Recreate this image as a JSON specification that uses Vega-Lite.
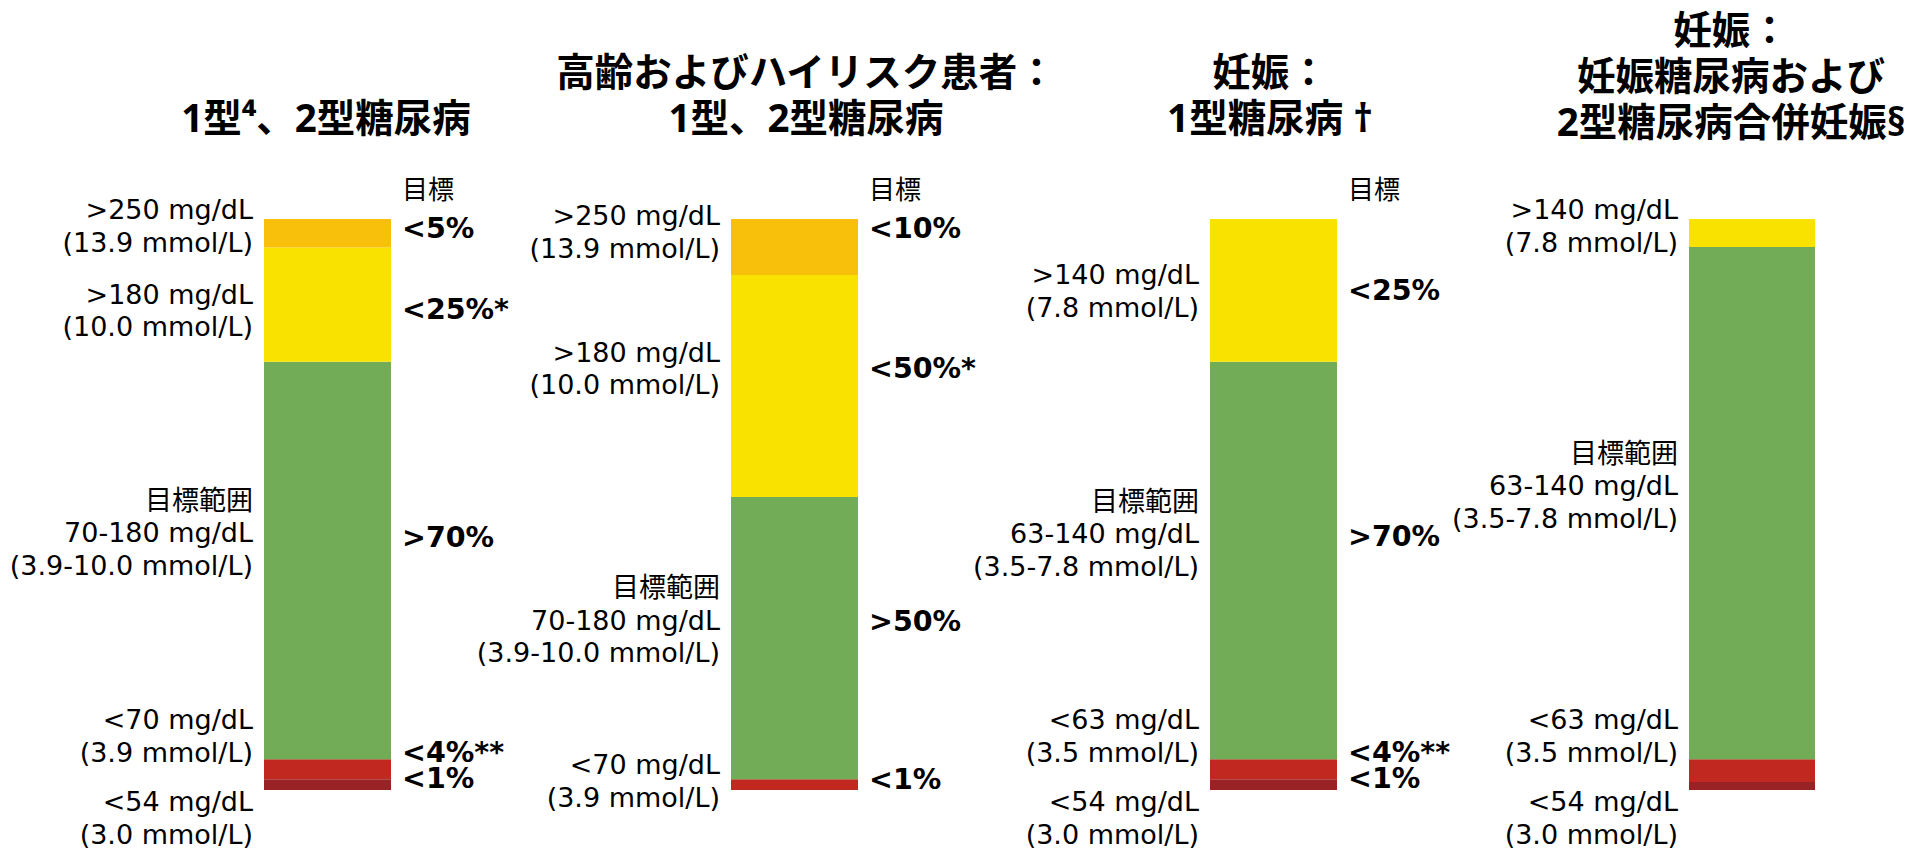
{
  "$schema": "https://vega.github.io/schema/vega-lite/v6.json",
  "background": "white",
  "autosize": {"type": "none"},
  "padding": {"left": 264, "top": 219, "right": 1643, "bottom": 630},
  "config": {
    "view": {"stroke": null},
    "text": {"font": "DejaVu Sans, Noto Sans CJK JP", "fontSize": 27, "fill": "#000000", "lineBreak": "\n", "lineHeight": 32.5, "baseline": "middle"},
    "title": {"font": "Noto Sans, Noto Sans CJK JP", "fontSize": 38.5, "fontWeight": "bold", "color": "#000000", "anchor": "middle", "frame": "group", "baseline": "bottom", "lineHeight": 46, "offset": 38}
  },
  "datasets": {
    "segments": [
      {"panel": "p1", "rank": 1, "band": "verylow", "value": 1.9, "range": "<54 mg/dL\n(3.0 mmol/L)", "goal": "<1%"},
      {"panel": "p1", "rank": 2, "band": "low", "value": 3.5, "range": "<70 mg/dL\n(3.9 mmol/L)", "goal": "<4%**"},
      {"panel": "p1", "rank": 3, "band": "inrange", "value": 69.6, "range": "目標範囲\n70-180 mg/dL\n(3.9-10.0 mmol/L)", "goal": ">70%"},
      {"panel": "p1", "rank": 4, "band": "high", "value": 20.0, "range": ">180 mg/dL\n(10.0 mmol/L)", "goal": "<25%*"},
      {"panel": "p1", "rank": 5, "band": "veryhigh", "value": 5.0, "range": ">250 mg/dL\n(13.9 mmol/L)", "goal": "<5%"},
      {"panel": "p2", "rank": 1, "band": "low", "value": 1.9, "range": "<70 mg/dL\n(3.9 mmol/L)", "goal": "<1%"},
      {"panel": "p2", "rank": 2, "band": "inrange", "value": 49.4, "range": "目標範囲\n70-180 mg/dL\n(3.9-10.0 mmol/L)", "goal": ">50%"},
      {"panel": "p2", "rank": 3, "band": "high", "value": 38.9, "range": ">180 mg/dL\n(10.0 mmol/L)", "goal": "<50%*"},
      {"panel": "p2", "rank": 4, "band": "veryhigh", "value": 9.8, "range": ">250 mg/dL\n(13.9 mmol/L)", "goal": "<10%"},
      {"panel": "p3", "rank": 1, "band": "verylow", "value": 1.9, "range": "<54 mg/dL\n(3.0 mmol/L)", "goal": "<1%"},
      {"panel": "p3", "rank": 2, "band": "low", "value": 3.5, "range": "<63 mg/dL\n(3.5 mmol/L)", "goal": "<4%**"},
      {"panel": "p3", "rank": 3, "band": "inrange", "value": 69.6, "range": "目標範囲\n63-140 mg/dL\n(3.5-7.8 mmol/L)", "goal": ">70%"},
      {"panel": "p3", "rank": 4, "band": "high", "value": 25.0, "range": ">140 mg/dL\n(7.8 mmol/L)", "goal": "<25%"},
      {"panel": "p4", "rank": 1, "band": "verylow", "value": 1.4, "range": "<54 mg/dL\n(3.0 mmol/L)", "goal": ""},
      {"panel": "p4", "rank": 2, "band": "low", "value": 4.0, "range": "<63 mg/dL\n(3.5 mmol/L)", "goal": ""},
      {"panel": "p4", "rank": 3, "band": "inrange", "value": 89.7, "range": "目標範囲\n63-140 mg/dL\n(3.5-7.8 mmol/L)", "goal": ""},
      {"panel": "p4", "rank": 4, "band": "high", "value": 4.9, "range": ">140 mg/dL\n(7.8 mmol/L)", "goal": ""}
    ]
  },
  "spacing": 0,
  "bounds": "flush",
  "resolve": {"scale": {"x": "independent", "y": "independent"}},
  "hconcat": [
    {
      "width": 467,
      "height": 571,
      "title": {"text": ["1型⁴、2型糖尿病"], "dx": -171.5},
      "data": {"name": "segments"},
      "transform": [
        {"filter": {"field": "panel", "equal": "p1"}},
        {"stack": "value", "groupby": ["panel"], "sort": [{"field": "rank", "order": "ascending"}], "as": ["lo", "hi"]}
      ],
      "layer": [
        {
          "mark": {"type": "bar"},
          "encoding": {
            "x": {"field": "panel", "type": "nominal", "axis": null, "scale": {"paddingInner": 0.25294, "paddingOuter": 1, "align": 0}},
            "y": {"field": "lo", "type": "quantitative", "axis": null, "scale": {"domain": [0, 100], "nice": false}},
            "y2": {"field": "hi"},
            "color": {"field": "band", "type": "nominal", "legend": null, "scale": {"domain": ["veryhigh", "high", "inrange", "low", "verylow"], "range": ["#F8BF0B", "#FAE200", "#72AC56", "#C1281F", "#992224"]}}
          }
        },
        {
          "data": {"values": [{"panel": "p1", "head": "目標"}]},
          "mark": {"type": "text", "align": "left", "dx": 11, "dy": -28, "font": "Noto Sans CJK JP", "fontSize": 26},
          "encoding": {"x": {"field": "panel", "type": "nominal", "bandPosition": 1}, "y": {"datum": 100, "type": "quantitative"}, "text": {"field": "head", "type": "nominal"}}
        },
        {"transform": [{"filter": {"field": "band", "equal": "veryhigh"}}], "mark": {"type": "text", "align": "right", "dx": -11, "dy": -8}, "encoding": {"x": {"field": "panel", "type": "nominal", "bandPosition": 0}, "y": {"field": "hi", "type": "quantitative"}, "text": {"field": "range", "type": "nominal"}}},
        {"transform": [{"filter": {"field": "band", "equal": "high"}}], "mark": {"type": "text", "align": "right", "dx": -11, "dy": 48}, "encoding": {"x": {"field": "panel", "type": "nominal", "bandPosition": 0}, "y": {"field": "hi", "type": "quantitative"}, "text": {"field": "range", "type": "nominal"}}},
        {"transform": [{"filter": {"field": "band", "equal": "inrange"}}], "mark": {"type": "text", "align": "right", "dx": -11, "dy": 140}, "encoding": {"x": {"field": "panel", "type": "nominal", "bandPosition": 0}, "y": {"field": "hi", "type": "quantitative"}, "text": {"field": "range", "type": "nominal"}}},
        {"transform": [{"filter": {"field": "band", "equal": "low"}}], "mark": {"type": "text", "align": "right", "dx": -11, "dy": -38}, "encoding": {"x": {"field": "panel", "type": "nominal", "bandPosition": 0}, "y": {"field": "hi", "type": "quantitative"}, "text": {"field": "range", "type": "nominal"}}},
        {"transform": [{"filter": {"field": "band", "equal": "verylow"}}], "mark": {"type": "text", "align": "right", "dx": -11, "dy": 24}, "encoding": {"x": {"field": "panel", "type": "nominal", "bandPosition": 0}, "y": {"field": "hi", "type": "quantitative"}, "text": {"field": "range", "type": "nominal"}}},
        {"transform": [{"filter": {"field": "band", "equal": "veryhigh"}}], "mark": {"type": "text", "align": "left", "dx": 11, "dy": 10, "fontWeight": "bold", "fontSize": 28.5}, "encoding": {"x": {"field": "panel", "type": "nominal", "bandPosition": 1}, "y": {"field": "hi", "type": "quantitative"}, "text": {"field": "goal", "type": "nominal"}}},
        {"transform": [{"filter": {"field": "band", "equal": "high"}}], "mark": {"type": "text", "align": "left", "dx": 11, "dy": 62, "fontWeight": "bold", "fontSize": 28.5}, "encoding": {"x": {"field": "panel", "type": "nominal", "bandPosition": 1}, "y": {"field": "hi", "type": "quantitative"}, "text": {"field": "goal", "type": "nominal"}}},
        {"transform": [{"filter": {"field": "band", "equal": "inrange"}}], "mark": {"type": "text", "align": "left", "dx": 11, "dy": 176, "fontWeight": "bold", "fontSize": 28.5}, "encoding": {"x": {"field": "panel", "type": "nominal", "bandPosition": 1}, "y": {"field": "hi", "type": "quantitative"}, "text": {"field": "goal", "type": "nominal"}}},
        {"transform": [{"filter": {"field": "band", "equal": "low"}}], "mark": {"type": "text", "align": "left", "dx": 11, "dy": -6, "fontWeight": "bold", "fontSize": 28.5}, "encoding": {"x": {"field": "panel", "type": "nominal", "bandPosition": 1}, "y": {"field": "hi", "type": "quantitative"}, "text": {"field": "goal", "type": "nominal"}}},
        {"transform": [{"filter": {"field": "band", "equal": "verylow"}}], "mark": {"type": "text", "align": "left", "dx": 11, "dy": 0, "fontWeight": "bold", "fontSize": 28.5}, "encoding": {"x": {"field": "panel", "type": "nominal", "bandPosition": 1}, "y": {"field": "hi", "type": "quantitative"}, "text": {"field": "goal", "type": "nominal"}}}
      ]
    },
    {
      "width": 479,
      "height": 571,
      "title": {"text": ["高齢およびハイリスク患者：", "1型、2型糖尿病"], "dx": -164.5},
      "data": {"name": "segments"},
      "transform": [
        {"filter": {"field": "panel", "equal": "p2"}},
        {"stack": "value", "groupby": ["panel"], "sort": [{"field": "rank", "order": "ascending"}], "as": ["lo", "hi"]}
      ],
      "layer": [
        {
          "mark": {"type": "bar"},
          "encoding": {
            "x": {"field": "panel", "type": "nominal", "axis": null, "scale": {"paddingInner": 0.27841, "paddingOuter": 1, "align": 0}},
            "y": {"field": "lo", "type": "quantitative", "axis": null, "scale": {"domain": [0, 100], "nice": false}},
            "y2": {"field": "hi"},
            "color": {"field": "band", "type": "nominal", "legend": null, "scale": {"domain": ["veryhigh", "high", "inrange", "low", "verylow"], "range": ["#F8BF0B", "#FAE200", "#72AC56", "#C1281F", "#992224"]}}
          }
        },
        {
          "data": {"values": [{"panel": "p2", "head": "目標"}]},
          "mark": {"type": "text", "align": "left", "dx": 11, "dy": -28, "font": "Noto Sans CJK JP", "fontSize": 26},
          "encoding": {"x": {"field": "panel", "type": "nominal", "bandPosition": 1}, "y": {"datum": 100, "type": "quantitative"}, "text": {"field": "head", "type": "nominal"}}
        },
        {"transform": [{"filter": {"field": "band", "equal": "veryhigh"}}], "mark": {"type": "text", "align": "right", "dx": -11, "dy": -2}, "encoding": {"x": {"field": "panel", "type": "nominal", "bandPosition": 0}, "y": {"field": "hi", "type": "quantitative"}, "text": {"field": "range", "type": "nominal"}}},
        {"transform": [{"filter": {"field": "band", "equal": "high"}}], "mark": {"type": "text", "align": "right", "dx": -11, "dy": 79}, "encoding": {"x": {"field": "panel", "type": "nominal", "bandPosition": 0}, "y": {"field": "hi", "type": "quantitative"}, "text": {"field": "range", "type": "nominal"}}},
        {"transform": [{"filter": {"field": "band", "equal": "inrange"}}], "mark": {"type": "text", "align": "right", "dx": -11, "dy": 92}, "encoding": {"x": {"field": "panel", "type": "nominal", "bandPosition": 0}, "y": {"field": "hi", "type": "quantitative"}, "text": {"field": "range", "type": "nominal"}}},
        {"transform": [{"filter": {"field": "band", "equal": "low"}}], "mark": {"type": "text", "align": "right", "dx": -11, "dy": -13}, "encoding": {"x": {"field": "panel", "type": "nominal", "bandPosition": 0}, "y": {"field": "hi", "type": "quantitative"}, "text": {"field": "range", "type": "nominal"}}},
        {"transform": [{"filter": {"field": "band", "equal": "veryhigh"}}], "mark": {"type": "text", "align": "left", "dx": 11, "dy": 10, "fontWeight": "bold", "fontSize": 28.5}, "encoding": {"x": {"field": "panel", "type": "nominal", "bandPosition": 1}, "y": {"field": "hi", "type": "quantitative"}, "text": {"field": "goal", "type": "nominal"}}},
        {"transform": [{"filter": {"field": "band", "equal": "high"}}], "mark": {"type": "text", "align": "left", "dx": 11, "dy": 94, "fontWeight": "bold", "fontSize": 28.5}, "encoding": {"x": {"field": "panel", "type": "nominal", "bandPosition": 1}, "y": {"field": "hi", "type": "quantitative"}, "text": {"field": "goal", "type": "nominal"}}},
        {"transform": [{"filter": {"field": "band", "equal": "inrange"}}], "mark": {"type": "text", "align": "left", "dx": 11, "dy": 125, "fontWeight": "bold", "fontSize": 28.5}, "encoding": {"x": {"field": "panel", "type": "nominal", "bandPosition": 1}, "y": {"field": "hi", "type": "quantitative"}, "text": {"field": "goal", "type": "nominal"}}},
        {"transform": [{"filter": {"field": "band", "equal": "low"}}], "mark": {"type": "text", "align": "left", "dx": 11, "dy": 1, "fontWeight": "bold", "fontSize": 28.5}, "encoding": {"x": {"field": "panel", "type": "nominal", "bandPosition": 1}, "y": {"field": "hi", "type": "quantitative"}, "text": {"field": "goal", "type": "nominal"}}}
      ]
    },
    {
      "width": 479,
      "height": 571,
      "title": {"text": ["妊娠：", "1型糖尿病 †"], "dx": -179.5},
      "data": {"name": "segments"},
      "transform": [
        {"filter": {"field": "panel", "equal": "p3"}},
        {"stack": "value", "groupby": ["panel"], "sort": [{"field": "rank", "order": "ascending"}], "as": ["lo", "hi"]}
      ],
      "layer": [
        {
          "mark": {"type": "bar"},
          "encoding": {
            "x": {"field": "panel", "type": "nominal", "axis": null, "scale": {"paddingInner": 0.27841, "paddingOuter": 1, "align": 0}},
            "y": {"field": "lo", "type": "quantitative", "axis": null, "scale": {"domain": [0, 100], "nice": false}},
            "y2": {"field": "hi"},
            "color": {"field": "band", "type": "nominal", "legend": null, "scale": {"domain": ["veryhigh", "high", "inrange", "low", "verylow"], "range": ["#F8BF0B", "#FAE200", "#72AC56", "#C1281F", "#992224"]}}
          }
        },
        {
          "data": {"values": [{"panel": "p3", "head": "目標"}]},
          "mark": {"type": "text", "align": "left", "dx": 11, "dy": -28, "font": "Noto Sans CJK JP", "fontSize": 26},
          "encoding": {"x": {"field": "panel", "type": "nominal", "bandPosition": 1}, "y": {"datum": 100, "type": "quantitative"}, "text": {"field": "head", "type": "nominal"}}
        },
        {"transform": [{"filter": {"field": "band", "equal": "high"}}], "mark": {"type": "text", "align": "right", "dx": -11, "dy": 57}, "encoding": {"x": {"field": "panel", "type": "nominal", "bandPosition": 0}, "y": {"field": "hi", "type": "quantitative"}, "text": {"field": "range", "type": "nominal"}}},
        {"transform": [{"filter": {"field": "band", "equal": "inrange"}}], "mark": {"type": "text", "align": "right", "dx": -11, "dy": 141}, "encoding": {"x": {"field": "panel", "type": "nominal", "bandPosition": 0}, "y": {"field": "hi", "type": "quantitative"}, "text": {"field": "range", "type": "nominal"}}},
        {"transform": [{"filter": {"field": "band", "equal": "low"}}], "mark": {"type": "text", "align": "right", "dx": -11, "dy": -38}, "encoding": {"x": {"field": "panel", "type": "nominal", "bandPosition": 0}, "y": {"field": "hi", "type": "quantitative"}, "text": {"field": "range", "type": "nominal"}}},
        {"transform": [{"filter": {"field": "band", "equal": "verylow"}}], "mark": {"type": "text", "align": "right", "dx": -11, "dy": 24}, "encoding": {"x": {"field": "panel", "type": "nominal", "bandPosition": 0}, "y": {"field": "hi", "type": "quantitative"}, "text": {"field": "range", "type": "nominal"}}},
        {"transform": [{"filter": {"field": "band", "equal": "high"}}], "mark": {"type": "text", "align": "left", "dx": 11, "dy": 72, "fontWeight": "bold", "fontSize": 28.5}, "encoding": {"x": {"field": "panel", "type": "nominal", "bandPosition": 1}, "y": {"field": "hi", "type": "quantitative"}, "text": {"field": "goal", "type": "nominal"}}},
        {"transform": [{"filter": {"field": "band", "equal": "inrange"}}], "mark": {"type": "text", "align": "left", "dx": 11, "dy": 175, "fontWeight": "bold", "fontSize": 28.5}, "encoding": {"x": {"field": "panel", "type": "nominal", "bandPosition": 1}, "y": {"field": "hi", "type": "quantitative"}, "text": {"field": "goal", "type": "nominal"}}},
        {"transform": [{"filter": {"field": "band", "equal": "low"}}], "mark": {"type": "text", "align": "left", "dx": 11, "dy": -6, "fontWeight": "bold", "fontSize": 28.5}, "encoding": {"x": {"field": "panel", "type": "nominal", "bandPosition": 1}, "y": {"field": "hi", "type": "quantitative"}, "text": {"field": "goal", "type": "nominal"}}},
        {"transform": [{"filter": {"field": "band", "equal": "verylow"}}], "mark": {"type": "text", "align": "left", "dx": 11, "dy": 0, "fontWeight": "bold", "fontSize": 28.5}, "encoding": {"x": {"field": "panel", "type": "nominal", "bandPosition": 1}, "y": {"field": "hi", "type": "quantitative"}, "text": {"field": "goal", "type": "nominal"}}}
      ]
    },
    {
      "width": 126,
      "height": 571,
      "title": {"text": ["妊娠：", "妊娠糖尿病および", "2型糖尿病合併妊娠§"], "dx": -21, "dy": -15},
      "data": {"name": "segments"},
      "transform": [
        {"filter": {"field": "panel", "equal": "p4"}},
        {"stack": "value", "groupby": ["panel"], "sort": [{"field": "rank", "order": "ascending"}], "as": ["lo", "hi"]}
      ],
      "layer": [
        {
          "mark": {"type": "bar"},
          "encoding": {
            "x": {"field": "panel", "type": "nominal", "axis": null, "scale": {"paddingInner": 0, "paddingOuter": 0, "align": 0}},
            "y": {"field": "lo", "type": "quantitative", "axis": null, "scale": {"domain": [0, 100], "nice": false}},
            "y2": {"field": "hi"},
            "color": {"field": "band", "type": "nominal", "legend": null, "scale": {"domain": ["veryhigh", "high", "inrange", "low", "verylow"], "range": ["#F8BF0B", "#FAE200", "#72AC56", "#C1281F", "#992224"]}}
          }
        },
        {"transform": [{"filter": {"field": "band", "equal": "high"}}], "mark": {"type": "text", "align": "right", "dx": -11, "dy": -8}, "encoding": {"x": {"field": "panel", "type": "nominal", "bandPosition": 0}, "y": {"field": "hi", "type": "quantitative"}, "text": {"field": "range", "type": "nominal"}}},
        {"transform": [{"filter": {"field": "band", "equal": "inrange"}}], "mark": {"type": "text", "align": "right", "dx": -11, "dy": 208}, "encoding": {"x": {"field": "panel", "type": "nominal", "bandPosition": 0}, "y": {"field": "hi", "type": "quantitative"}, "text": {"field": "range", "type": "nominal"}}},
        {"transform": [{"filter": {"field": "band", "equal": "low"}}], "mark": {"type": "text", "align": "right", "dx": -11, "dy": -38}, "encoding": {"x": {"field": "panel", "type": "nominal", "bandPosition": 0}, "y": {"field": "hi", "type": "quantitative"}, "text": {"field": "range", "type": "nominal"}}},
        {"transform": [{"filter": {"field": "band", "equal": "verylow"}}], "mark": {"type": "text", "align": "right", "dx": -11, "dy": 21}, "encoding": {"x": {"field": "panel", "type": "nominal", "bandPosition": 0}, "y": {"field": "hi", "type": "quantitative"}, "text": {"field": "range", "type": "nominal"}}}
      ]
    }
  ]
}
